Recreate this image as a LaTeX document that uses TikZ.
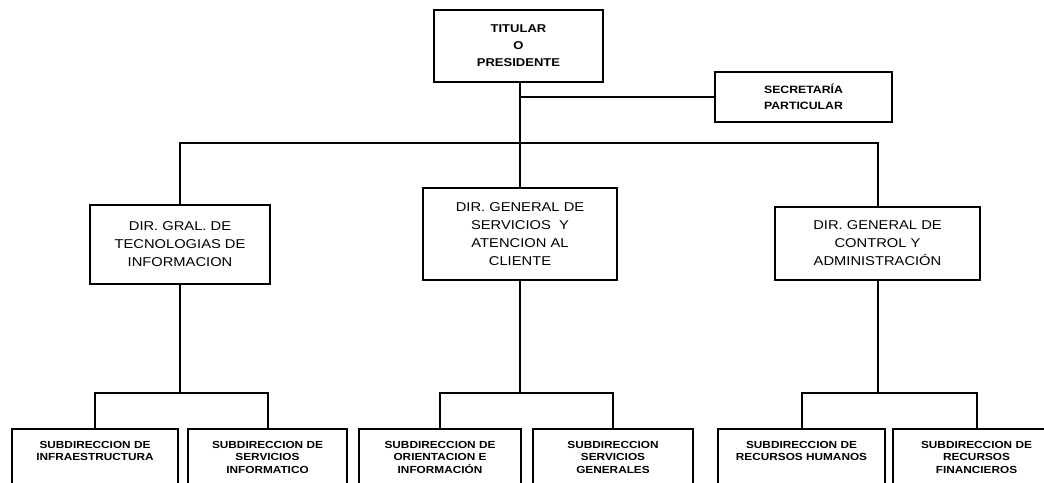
\documentclass[tikz,border=0pt]{standalone}
\usepackage{fontspec}
\setmainfont{Liberation Sans}[FakeStretch=1.15]
\begin{document}
\begin{tikzpicture}[x=0.75pt,y=-0.75pt,
  conn/.style={line width=1.5pt},
  box/.style={draw, line width=2.2pt, inner sep=0pt, align=center},
  topbox/.style={box, font={\fontsize{8.5}{12.75}\selectfont\bfseries}},
  secbox/.style={box, line width=1.8pt, font={\fontsize{8}{11.8}\selectfont\bfseries}},
  dirbox/.style={box, font={\fontsize{9.6}{13.5}\selectfont}},
  subbox/.style={box, minimum height=53.25pt},
  subtext/.style={anchor=north, inner sep=0pt, yshift=-10pt, align=center,
    font={\fontsize{7.7}{9.4}\selectfont\bfseries}}]
\useasboundingbox (0,0) rectangle (1044,482);
\clip (0,0) rectangle (1044,482);

% head of the organisation and its private office
\node[topbox, minimum width=126.75pt, minimum height=54pt] (tit) at (518.5,46) {TITULAR\\O\\PRESIDENTE};
\node[secbox, minimum width=132.75pt, minimum height=37.5pt] (sec) at (803.5,97) {SECRETARÍA\\PARTICULAR};

% general directorates
\node[dirbox, minimum width=135pt, minimum height=59.25pt] (dl) at (180,244.5) {DIR. GRAL. DE\\TECNOLOGIAS DE\\INFORMACION};
\node[dirbox, minimum width=145.5pt, minimum height=69pt] (dm) at (520,234) {DIR. GENERAL DE\\SERVICIOS\ \ Y\\ATENCION AL\\CLIENTE};
\node[dirbox, minimum width=153.75pt, minimum height=54.75pt] (dr) at (877.5,243.5) {DIR. GENERAL DE\\CONTROL Y\\ADMINISTRACIÓN};

% sub-directorates (boxes run past the lower edge)
\node[subbox, minimum width=124.5pt] (s1) at (95,464.5) {};
\node[subbox, minimum width=119.25pt] (s2) at (267.5,464.5) {};
\node[subbox, minimum width=121.5pt] (s3) at (440,464.5) {};
\node[subbox, minimum width=120pt] (s4) at (613,464.5) {};
\node[subbox, minimum width=125.25pt] (s5) at (801.5,464.5) {};
\node[subbox, minimum width=125.25pt] (s6) at (976.5,464.5) {};

\node[subtext] (t1) at (s1.north) {SUBDIRECCION DE\\INFRAESTRUCTURA};
\node[subtext] (t2) at (s2.north) {SUBDIRECCION DE\\SERVICIOS\\INFORMATICO};
\node[subtext] (t3) at (s3.north) {SUBDIRECCION DE\\ORIENTACION E\\INFORMACIÓN};
\node[subtext] (t4) at (s4.north) {SUBDIRECCION\\SERVICIOS\\GENERALES};
\node[subtext] (t5) at (s5.north) {SUBDIRECCION DE\\RECURSOS HUMANOS};
\node[subtext] (t6) at (s6.north) {SUBDIRECCION DE\\RECURSOS\\FINANCIEROS};

% connector levels
\coordinate (busA) at (0,143);
\coordinate (busL) at (0,393);

\draw[conn] (dm.north) -- (dm.north |- tit.south);
\draw[conn] (sec.west) -- (sec.west -| dm.north);
\draw[conn] (dl.north) -- (dl.north |- busA) -- (dr.north |- busA) -- (dr.north);

\draw[conn] (dl.south) -- (dl.south |- busL);
\draw[conn] (s1.north) -- (s1.north |- busL) -- (s2.north |- busL) -- (s2.north);
\draw[conn] (dm.south) -- (dm.south |- busL);
\draw[conn] (s3.north) -- (s3.north |- busL) -- (s4.north |- busL) -- (s4.north);
\draw[conn] (dr.south) -- (dr.south |- busL);
\draw[conn] (s5.north) -- (s5.north |- busL) -- (s6.north |- busL) -- (s6.north);
\end{tikzpicture}
\end{document}
